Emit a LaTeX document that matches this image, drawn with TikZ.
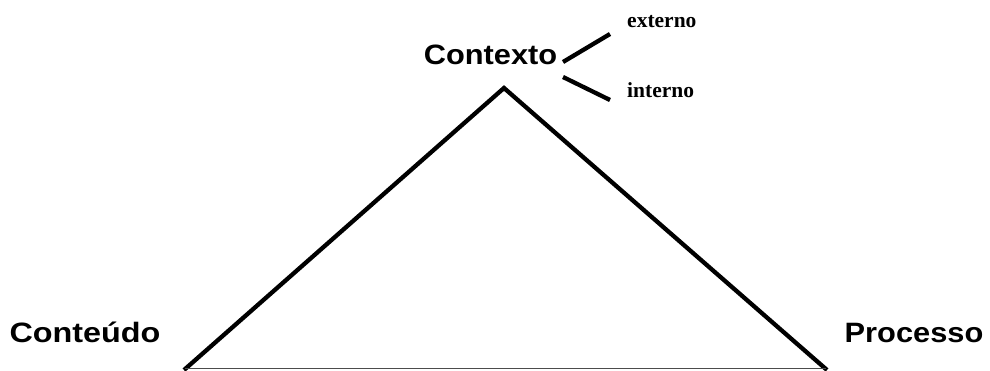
\documentclass[tikz,border=0pt]{standalone}
\usepackage{fontspec}
\setmainfont{Liberation Sans}
\newfontfamily\serifbold{Liberation Serif}
\begin{document}
\begin{tikzpicture}[x=1pt,y=1pt,
  biglabel/.style={inner sep=0pt,anchor=base,font=\bfseries\fontsize{28}{30}\selectfont,xscale=1.1},
  smalllabel/.style={inner sep=0pt,anchor=base west,font=\serifbold\bfseries\fontsize{21.5}{24}\selectfont},
  leg/.style={line width=4.3pt,line join=miter,line cap=butt},
  twig/.style={line width=4.3pt},
  baseline/.style={line width=1pt,draw=black!70}]
\useasboundingbox (0,0) rectangle (990,370);
% labels
\node[biglabel] (contexto) at (490.5,305) {Contexto};
\node[biglabel,xscale=1.05] (conteudo) at (85,28) {Conteúdo};
\node[biglabel] (processo) at (914,27.5) {Processo};
\node[smalllabel] (externo) at (627,342) {externo};
\node[smalllabel] (interno) at (627,272) {interno};
% triangle
\coordinate (apex) at (504,282);
\coordinate (bl) at (184,0);
\coordinate (br) at (827,0);
\coordinate (bbl) at (185,2);
\coordinate (bbr) at (826,2);
\draw[leg] (bl) -- (apex) -- (br);
\draw[baseline] (bbl) -- (bbr);
% branches
\coordinate (c1) at (563,308);
\coordinate (e1) at (610,336);
\coordinate (c2) at (563,293);
\coordinate (i2) at (610,270);
\draw[twig] (c1) -- (e1);
\draw[twig] (c2) -- (i2);
\end{tikzpicture}
\end{document}
